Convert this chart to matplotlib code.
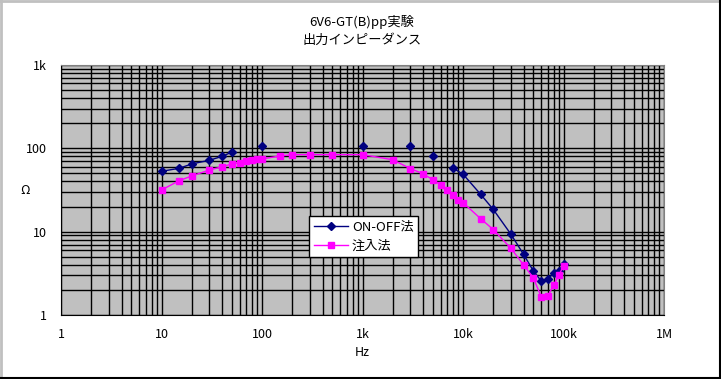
import numpy as np
import matplotlib.pyplot as plt
from matplotlib.ticker import LogLocator, NullFormatter, FixedLocator
from matplotlib.lines import Line2D

plt.rcParams['font.family'] = ['Noto Sans CJK JP', 'DejaVu Sans']

nan = np.nan

# ON-OFF法 (gaps where the sheet has no value, so the line breaks there)
f_onoff = [10, 15, 20, 30, 40, 50, 60, 100, 150, 1000, 2000, 3000, 4000, 5000, 6000,
           8000, 10000, 15000, 20000, 30000, 40000, 50000, 60000, 70000, 80000,
           90000, 100000]
z_onoff = [53, 57.6, 65, 72, 80, 90, nan, 106, nan, 106, nan, 106, nan, 81, nan,
           57.6, 49, 28, 18.5, 9.3, 5.35, 3.4, 2.56, 2.7, 3.2,
           3.4, 4.1]

# 注入法
f_inj = [10, 15, 20, 30, 40, 50, 60, 70, 80, 90, 100, 150, 200, 300, 500,
         1000, 2000, 3000, 4000, 5000, 6000, 7000, 8000, 9000, 10000, 15000,
         20000, 30000, 40000, 50000, 60000, 70000, 80000, 90000, 100000]
z_inj = [31.6, 41, 46.6, 55, 60, 65, 67, 70.5, 72.4, 74.5, 74.5, 81, 84, 84, 84,
         84, 73, 57, 49.6, 42, 36.6, 32, 27.8, 24.2, 22.3, 14.3,
         10.6, 6.3, 4.0, 2.8, 1.66, 1.7, 2.3, 3.0, 3.9]

x_ticks = [1, 10, 100, 1000, 10000, 100000, 1000000]
x_labels = ['1', '10', '100', '1k', '10k', '100k', '1M']
y_ticks = [1, 10, 100, 1000]
y_labels = ['1', '10', '100', '1k']

fig = plt.figure(figsize=(7.21, 3.79), dpi=100)
ax = fig.add_axes([61 / 721, 1 - 315 / 379, 603 / 721, 250 / 379])
ax.set_facecolor('#C0C0C0')

ax.plot(f_onoff, z_onoff, color='#000080', lw=1, marker='D', ms=4.5,
        mec='#000080', mfc='#000080', label='ON-OFF法', zorder=3)
ax.plot(f_inj, z_inj, color='#FF00FF', lw=1, marker='s', ms=5,
        mec='#FF00FF', mfc='#FF00FF', label='注入法', zorder=3)

ax.set_xscale('log')
ax.set_yscale('log')
ax.set_xlim(1, 1e6)
ax.set_ylim(1, 1000)
ax.xaxis.set_major_locator(FixedLocator(x_ticks))
ax.set_xticklabels(x_labels)
ax.yaxis.set_major_locator(FixedLocator(y_ticks))
ax.set_yticklabels(y_labels)
ax.xaxis.set_minor_locator(LogLocator(base=10, subs=range(2, 10), numticks=20))
ax.yaxis.set_minor_locator(LogLocator(base=10, subs=range(2, 10), numticks=20))
ax.xaxis.set_minor_formatter(NullFormatter())
ax.yaxis.set_minor_formatter(NullFormatter())
ax.grid(True, which='both', color='black', lw=1)
ax.set_axisbelow(True)
ax.tick_params(which='both', length=0, labelsize=9, pad=9)
ax.tick_params(axis='y', pad=10)

ax.spines['left'].set_color('black')
ax.spines['bottom'].set_color('black')
ax.spines['top'].set_color('#808080')
ax.spines['right'].set_color('#808080')

ax.set_xlabel('Hz', fontsize=9, labelpad=4)
fig.text(25 / 721, 1 - 190 / 379, 'Ω', ha='center', va='center', fontsize=9)

fig.text(362 / 721, 1 - 22 / 379, '6V6-GT(B)pp実験', ha='center', va='center', fontsize=9.5)
fig.text(362 / 721, 1 - 40 / 379, '出力インピーダンス', ha='center', va='center', fontsize=9.5)

leg = ax.legend(loc='upper left', bbox_to_anchor=((309 - 61) / 603, (315 - 216) / 250),
                borderaxespad=0, frameon=True, fancybox=False, framealpha=1,
                edgecolor='black', fontsize=9.5, borderpad=0.35, handlelength=2.6,
                labelspacing=0.45, handletextpad=0.3)
leg.get_frame().set_linewidth(1)

# chart area border
fig.add_artist(Line2D([0.5 / 721, 0.5 / 721], [0, 1], color='#C0C0C0', lw=2))
fig.add_artist(Line2D([0, 1], [1 - 0.5 / 379, 1 - 0.5 / 379], color='#C0C0C0', lw=2))
fig.add_artist(Line2D([1 - 1.5 / 721, 1 - 1.5 / 721], [0, 1], color='black', lw=1.5))
fig.add_artist(Line2D([0, 1], [1.5 / 379, 1.5 / 379], color='black', lw=1.5))

fig.savefig('out.png', dpi=100)
